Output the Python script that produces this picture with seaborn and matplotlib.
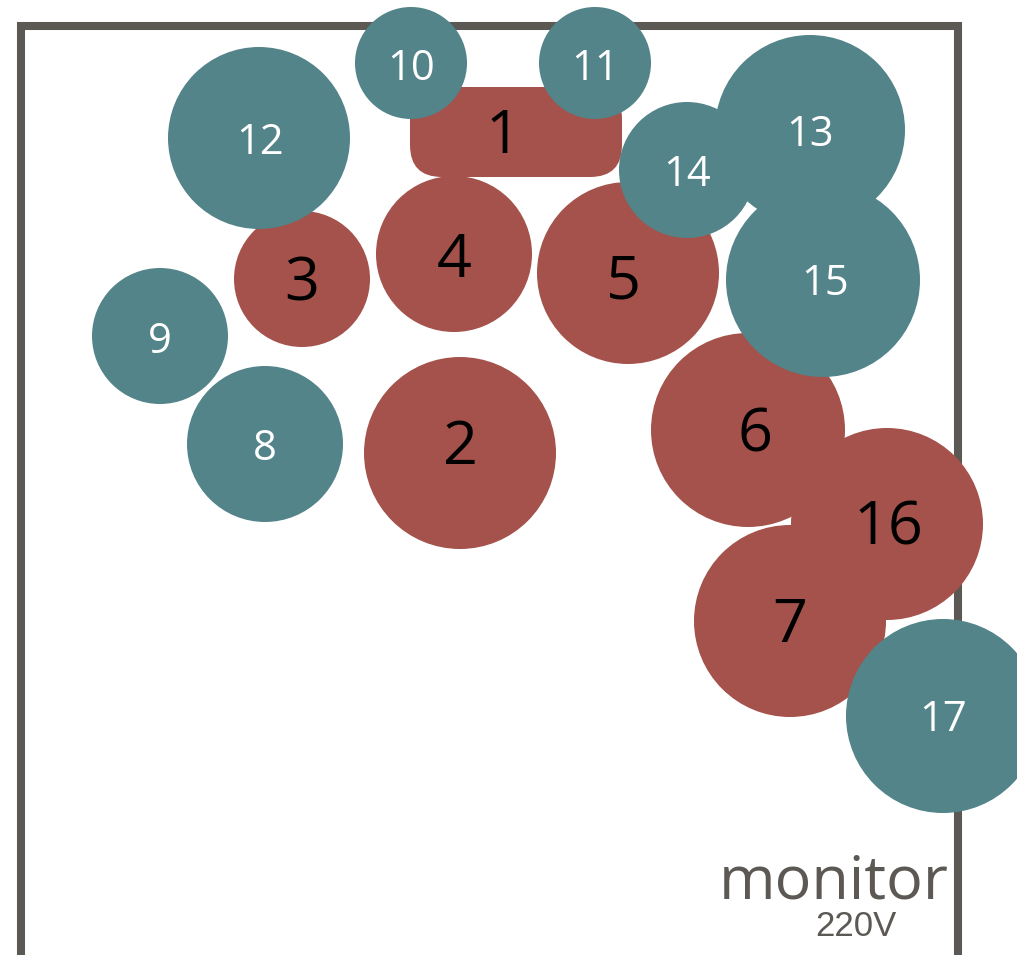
import matplotlib
matplotlib.use("Agg")
import matplotlib.pyplot as plt
import seaborn as sns
from matplotlib.patches import Circle, FancyBboxPatch

sns.set_theme(style="white")
plt.rcParams["font.family"] = ["Open Sans", "DejaVu Sans"]

# seat layout (pixel coordinates of the floor plan)
ids = ["1", "2", "3", "4", "5", "6", "7", "8", "9", "10", "11", "12", "13", "14", "15", "16", "17"]
kind = ["red", "red", "red", "red", "red", "red", "red", "teal", "teal", "teal", "teal", "teal", "teal", "teal", "teal", "red", "teal"]
cx = [516, 460, 302, 454, 628, 748, 790, 265, 160, 411, 595, 259, 810, 687, 823, 887, 943]
cy = [132, 453, 279, 254, 273, 430, 621, 444, 336, 63, 63, 138, 130, 170, 280, 524, 716]
rad = [0, 96, 68, 78, 91, 97, 96, 78, 68, 56, 56, 91, 95, 68, 97, 96, 97]
# table 1 is a rounded rectangle: width, height
table_w = 212
table_h = 90

# room outline
room_x = [21, 21, 958, 958]
room_y = [955, 26, 26, 955]

palette = {"red": "#a4524b", "teal": "#528489"}
text_color = {"red": "black", "teal": "white"}
text_size = {"red": 44, "teal": 30}

fig = plt.figure(figsize=(10.17, 9.55), dpi=100)
ax = fig.add_axes([0, 0, 1, 1])
ax.set_xlim(0, 1017)
ax.set_ylim(955, 0)
ax.set_aspect("equal")
ax.axis("off")

ax.plot(room_x, room_y, color="#5c5955", lw=5.8, solid_joinstyle="miter", zorder=1)

for i, name in enumerate(ids):
    col = palette[kind[i]]
    if rad[i] == 0:
        patch = FancyBboxPatch((cx[i] - table_w / 2, cy[i] - table_h / 2), table_w, table_h,
                               boxstyle="round,pad=0,rounding_size=32", fc=col, ec="none", zorder=2 + i)
    else:
        patch = Circle((cx[i], cy[i]), rad[i], fc=col, ec="none", zorder=2 + i)
    ax.add_patch(patch)

label_dx = [-13, 0, 0, 0, -5, 7, 0, 0, 0, 0, 0, 1, 0, 0, 2, 1, 0]
label_dy = [5, -5, 5, 7, 9, 5, 5, 5, 6, 6, 6, 5, 5, 5, 4, 4, 4]
for i, name in enumerate(ids):
    ax.text(cx[i] + label_dx[i], cy[i] + label_dy[i], name, ha="center", va="center",
            color=text_color[kind[i]], fontsize=text_size[kind[i]], zorder=2 + i)

ax.text(949, 882, "monitor", ha="right", va="center", color="#5c5955", fontsize=44, zorder=30)
ax.text(856, 926, "220V", ha="center", va="center", color="#5c5955", fontsize=25,
        family=["Liberation Sans", "DejaVu Sans"], zorder=30)

fig.savefig("out.png", dpi=100, facecolor="white")
